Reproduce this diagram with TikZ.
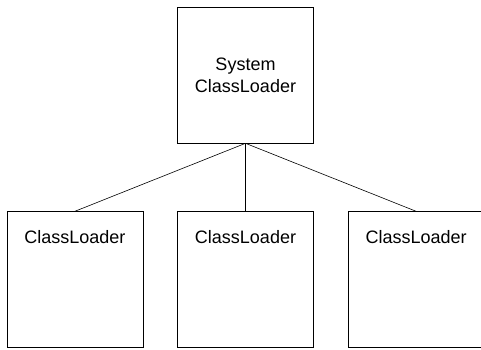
\documentclass[tikz,border=0pt]{standalone}
\usepackage{fontspec}
\setmainfont{Liberation Sans}
\usetikzlibrary{positioning}
\tikzset{
  loaderbox/.style={draw,line width=0.6pt,minimum width=136pt,minimum height=136pt,inner sep=0pt,
    font=\fontsize{18}{22}\selectfont,align=center},
  loadername/.style={anchor=base,yshift=-32pt,font=\fontsize{18}{22}\selectfont},
  link/.style={line width=0.6pt}
}

\begin{document}
\begin{tikzpicture}
\useasboundingbox (0,0) rectangle (481pt,-350pt);

\node[loaderbox] (sys) at (245.5pt,-75pt) {System\\ClassLoader};

\node[loaderbox,below=68pt of sys,label={[loadername]north:ClassLoader}] (mid) {};
\node[loaderbox,left=34pt of mid,label={[loadername]north:ClassLoader}] (lft) {};
\node[loaderbox,right=34pt of mid,label={[loadername]north:ClassLoader}] (rgt) {};

\draw[link] (sys.south) -- (lft.north);
\draw[link] (sys.south) -- (mid.north);
\draw[link] (sys.south) -- (rgt.north);

\end{tikzpicture}
\end{document}
